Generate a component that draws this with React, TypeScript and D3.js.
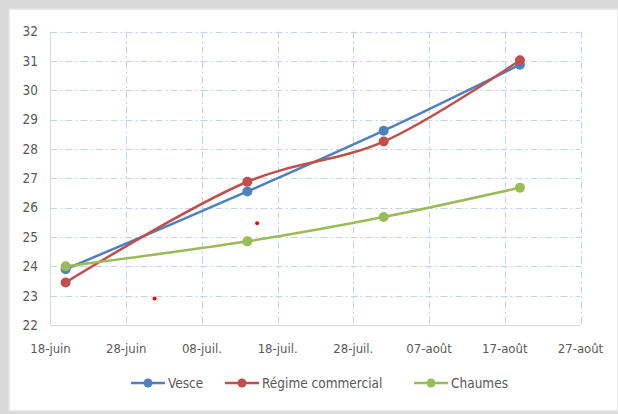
import React from "react";
import * as d3 from "d3";

const seriesNames = ["Vesce", "Régime commercial", "Chaumes"];
const seriesColors = ["#4F81BD", "#C0504D", "#9BBB59"];
const sampleDates = ["2014-06-20", "2014-07-14", "2014-08-01", "2014-08-19"];
const vesce = [23.9, 26.55, 28.62, 30.87];
const regime = [23.45, 26.88, 28.25, 31.02];
const chaumes = [24.0, 24.85, 25.68, 26.68];
const extraDates = ["2014-07-01T18:00", "2014-07-15T07:00"];
const extraValues = [22.9, 25.47];
const xTickDates = ["2014-06-18", "2014-06-28", "2014-07-08", "2014-07-18", "2014-07-28", "2014-08-07", "2014-08-17", "2014-08-27"];
const xTickLabels = ["18-juin", "28-juin", "08-juil.", "18-juil.", "28-juil.", "07-août", "17-août", "27-août"];
const yTicks = [22, 23, 24, 25, 26, 27, 28, 29, 30, 31, 32];

const W = 618;
const H = 414;
const FONT = "'DejaVu Sans Condensed', 'DejaVu Sans', sans-serif";
const TXT = "#595959";

export default function App() {
  const parse = (s: string) => new Date(s);
  const x = d3
    .scaleTime()
    .domain([parse(xTickDates[0]), parse(xTickDates[xTickDates.length - 1])])
    .range([50.5, 580.5]);
  const y = d3.scaleLinear().domain([22, 32]).range([325, 31.5]);
  const allSeries = [vesce, regime, chaumes];
  const line = d3
    .line<[Date, number]>()
    .x((d) => x(d[0]))
    .y((d) => y(d[1]))
    .curve(d3.curveCatmullRom.alpha(0.5));

  const legendItems = [
    { lx: 131, tx: 168 },
    { lx: 225, tx: 262 },
    { lx: 414, tx: 451 },
  ];
  const grid = "#C2D3EB";
  const dash = "7,3,2,3";

  return (
    <div style={{ position: "fixed", left: 0, top: 0 }}>
      <svg width={W} height={H} style={{ display: "block" }}>
        <rect x={0} y={0} width={W} height={H} fill="#D9D9D9" />
        <rect x={9} y={9} width={W - 9} height={H - 12} fill="#FFFFFF" stroke="#E3E3E3" strokeWidth={1.5} />
        {yTicks.slice(1).map((t) => (
          <line key={"h" + t} x1={x(parse(xTickDates[0]))} x2={x(parse(xTickDates[xTickDates.length - 1]))} y1={Math.round(y(t)) + 0.5} y2={Math.round(y(t)) + 0.5} stroke={grid} strokeWidth={1} strokeDasharray={dash} />
        ))}
        {xTickDates.slice(1).map((d) => (
          <line key={"v" + d} x1={Math.round(x(parse(d))) + 0.5} x2={Math.round(x(parse(d))) + 0.5} y1={y(32)} y2={y(22)} stroke={grid} strokeWidth={1} strokeDasharray={dash} />
        ))}
        <line x1={x(parse(xTickDates[0]))} x2={x(parse(xTickDates[0]))} y1={y(32)} y2={y(22)} stroke="#D9D9D9" strokeWidth={1} />
        <line x1={x(parse(xTickDates[0]))} x2={x(parse(xTickDates[xTickDates.length - 1]))} y1={y(22) + 0.5} y2={y(22) + 0.5} stroke="#D9D9D9" strokeWidth={1} />
        {yTicks.map((t) => (
          <text key={"yl" + t} x={38} y={y(t)} dy="0.36em" textAnchor="end" fontFamily={FONT} fontSize={13.5} fill={TXT}>
            {t}
          </text>
        ))}
        {xTickDates.map((d, i) => (
          <text key={"xl" + d} x={x(parse(d))} y={353} textAnchor="middle" fontFamily={FONT} fontSize={13} fill={TXT}>
            {xTickLabels[i]}
          </text>
        ))}
        {allSeries.map((vals, si) => {
          const pts: [Date, number][] = vals.map((v, i) => [parse(sampleDates[i]), v]);
          return (
            <g key={"s" + si}>
              <path d={line(pts) || ""} fill="none" stroke={seriesColors[si]} strokeWidth={2.5} strokeLinecap="round" />
              {pts.map((p, i) => (
                <circle key={i} cx={x(p[0])} cy={y(p[1])} r={5} fill={seriesColors[si]} />
              ))}
            </g>
          );
        })}
        {extraDates.map((d, i) => (
          <circle key={"e" + i} cx={x(parse(d))} cy={y(extraValues[i])} r={2} fill="#FF0000" />
        ))}
        {seriesNames.map((n, i) => (
          <g key={"lg" + i}>
            <line x1={legendItems[i].lx} x2={legendItems[i].lx + 34} y1={383} y2={383} stroke={seriesColors[i]} strokeWidth={2.5} />
            <circle cx={legendItems[i].lx + 17} cy={383} r={4.5} fill={seriesColors[i]} />
            <text x={legendItems[i].tx} y={383} dy="0.36em" fontFamily={FONT} fontSize={13.5} fill={TXT}>
              {n}
            </text>
          </g>
        ))}
      </svg>
    </div>
  );
}
